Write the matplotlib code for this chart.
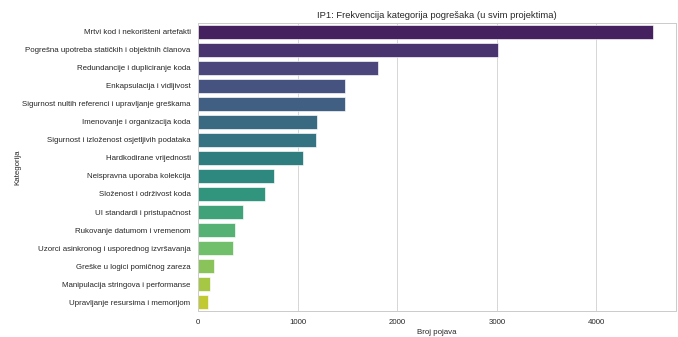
import matplotlib
matplotlib.use("Agg")
import matplotlib.pyplot as plt
import seaborn as sns
import pandas as pd

categories = [
    "Mrtvi kod i nekorišteni artefakti",
    "Pogrešna upotreba statičkih i objektnih članova",
    "Redundancije i dupliciranje koda",
    "Enkapsulacija i vidljivost",
    "Sigurnost nultih referenci i upravljanje greškama",
    "Imenovanje i organizacija koda",
    "Sigurnost i izloženost osjetljivih podataka",
    "Hardkodirane vrijednosti",
    "Neispravna uporaba kolekcija",
    "Složenost i održivost koda",
    "UI standardi i pristupačnost",
    "Rukovanje datumom i vremenom",
    "Uzorci asinkronog i usporednog izvršavanja",
    "Greške u logici pomičnog zareza",
    "Manipulacija stringova i performanse",
    "Upravljanje resursima i memorijom",
]
counts = [4570, 3008, 1811, 1479, 1474, 1193, 1180, 1058, 764, 672, 454, 373, 353, 161, 119, 98]

sns.set_theme(style="whitegrid")
plt.rcParams['font.family'] = ['Liberation Sans', 'DejaVu Sans']

df = pd.DataFrame({"Kategorija": categories, "Broj pojava": counts})

fig = plt.figure(figsize=(12, 337 / 56.5), dpi=56.5)
ax = fig.add_axes([0.292, 0.077, 0.705, 0.855])
sns.barplot(data=df, y="Kategorija", x="Broj pojava", hue="Kategorija",
            palette="viridis", legend=False, ax=ax, orient="h",
            edgecolor="white", linewidth=0.8)
ax.set_title("IP1: Frekvencija kategorija pogrešaka (u svim projektima)", fontsize=12)
ax.set_xlabel("Broj pojava", fontsize=10)
ax.set_ylabel("Kategorija", fontsize=10, labelpad=1)
ax.tick_params(axis="both", labelsize=10)
fig.savefig("out.png", dpi=56.5)
